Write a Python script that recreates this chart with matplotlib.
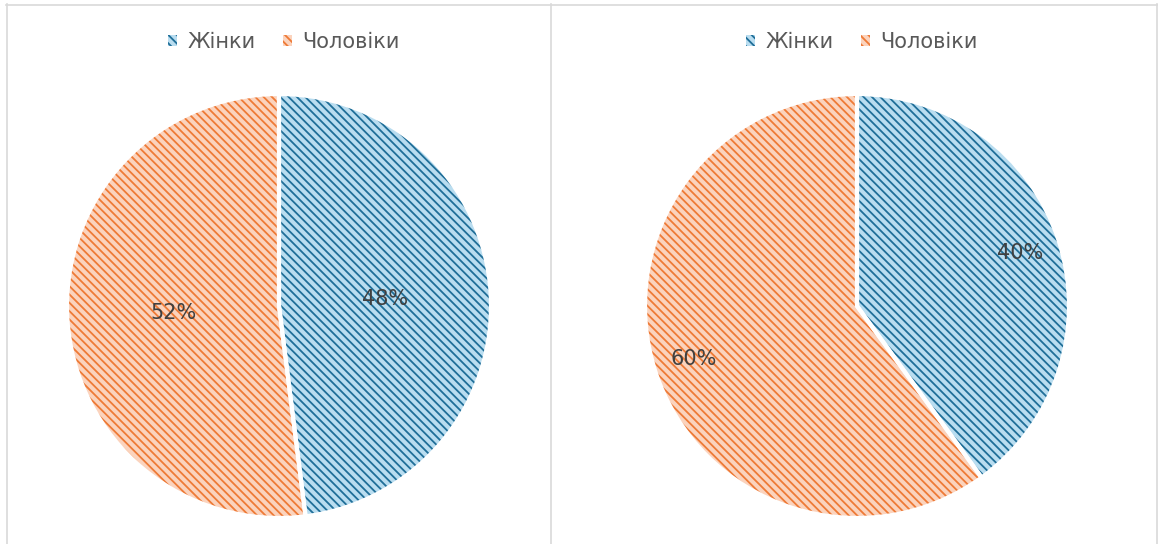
import matplotlib
matplotlib.use("Agg")
import matplotlib.pyplot as plt
from matplotlib.patches import Patch
from matplotlib.lines import Line2D

categories = ["Жінки", "Чоловіки"]
left_values = [48, 52]
right_values = [40, 60]

face_colors = ["#B9DDF0", "#FBD3BD"]
hatch_colors = ["#1F6E98", "#EE7A36"]

plt.rcParams['font.family'] = ['DejaVu Sans']
plt.rcParams['hatch.linewidth'] = 1.3

W, H = 1162, 544
fig = plt.figure(figsize=(W / 100, H / 100), dpi=100)
fig.patch.set_facecolor("white")

# panel borders
border_col = "#D9D9D9"
for x in [6.5, 550.5, 1156.5]:
    fig.add_artist(Line2D([x / W, x / W], [0, 1 - 4 / H], color=border_col, lw=1.2, transform=fig.transFigure))
fig.add_artist(Line2D([6 / W, 1157 / W], [1 - 4.5 / H, 1 - 4.5 / H], color=border_col, lw=1.2, transform=fig.transFigure))


def draw_pie(cx, cy, r, values, pctdist):
    ax = fig.add_axes([(cx - r) / W, 1 - (cy + r) / H, 2 * r / W, 2 * r / H])
    wedges, texts, autotexts = ax.pie(values, colors=face_colors, startangle=90, counterclock=False,
                                      autopct="%d%%", pctdistance=pctdist, radius=1,
                                      textprops=dict(color="#404040", fontsize=15))
    for w, hc in zip(wedges, hatch_colors):
        w.set_hatch("\\\\\\\\")
        w.set_edgecolor(hc)
        w.set_linewidth(0)
    wedges2, _ = ax.pie(values, colors=["none", "none"], startangle=90, counterclock=False, radius=1,
                        wedgeprops=dict(edgecolor="white", linewidth=3))
    for w in wedges2:
        w.set_clip_on(False)
    for t in autotexts:
        t.set_zorder(10)
    ax.set_xlim(-1, 1)
    ax.set_ylim(-1, 1)
    ax.set_aspect("equal")
    ax.axis("off")
    handles = [Patch(facecolor=fc, edgecolor=hc, hatch="\\\\\\\\", linewidth=0) for fc, hc in zip(face_colors, hatch_colors)]
    fig.legend(handles, categories, loc="center", bbox_to_anchor=((cx + 5) / W, 1 - 42 / H), ncol=2,
               frameon=False, fontsize=15, labelcolor="#595959", handlelength=0.45, handleheight=0.45,
               handletextpad=0.5, columnspacing=1.3)
    return ax


draw_pie(279, 306, 212, left_values, 0.5)
draw_pie(857, 306, 212, right_values, 0.81)

fig.savefig("out.png", dpi=100)
